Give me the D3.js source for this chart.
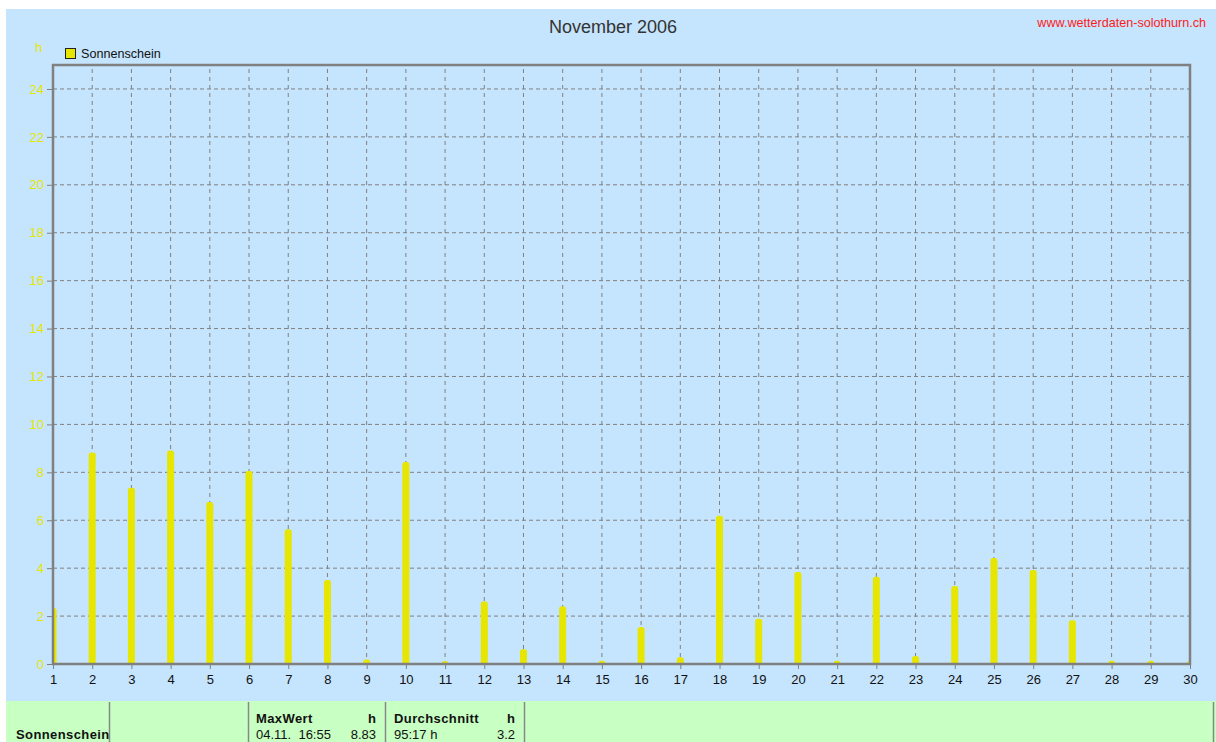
<!DOCTYPE html>
<html>
<head>
<meta charset="utf-8">
<script src="https://cdn.jsdelivr.net/npm/d3@7"></script>
<style>
  body { margin: 0; background: #fff; }
  svg text { font-family: "Liberation Sans", Arial, sans-serif; }
</style>
</head>
<body>
<div id="chart"></div>
<script>
// daily sunshine hours, November 2006
const days = d3.range(1, 31);
const sunshine = [2.25, 8.74, 7.27, 8.83, 6.68, 7.97, 5.54, 3.42, 0.1, 8.35,
                  0.03, 2.52, 0.53, 2.33, 0.05, 1.46, 0.2, 6.1, 1.8, 3.76,
                  0.05, 3.56, 0.25, 3.17, 4.34, 3.84, 1.74, 0.05, 0.05, 0.03];
const yTicks = [0, 2, 4, 6, 8, 10, 12, 14, 16, 18, 20, 22, 24];
const tableHeads = ["MaxWert", "Durchschnitt"];
const tableRows = [["04.11.  16:55", "8.83"], ["95:17 h", "3.2"]];

const ctx = {
    W: 1216,
    H: 742,
    left: 53, right: 1190, top: 65, bottom: 664,
    blue: "#C5E4FD",
    green: "#C8FFC2",
    yellow: "#E6E600",
    grid: "#808080",
};

const svg = d3.select("#chart").append("svg")
    .attr("width", ctx.W)
    .attr("height", ctx.H);

svg.append("rect").attr("x", 6).attr("y", 9).attr("width", ctx.W - 6).attr("height", 692)
    .style("fill", ctx.blue);

const x = d3.scaleLinear().domain([1, 30]).range([ctx.left, ctx.right]);
const y = d3.scaleLinear().domain([0, 25]).range([ctx.bottom, ctx.top]);

// grid
svg.append("g").selectAll("line")
    .data(yTicks.filter(d => d > 0))
    .enter().append("line")
    .attr("x1", ctx.left).attr("x2", ctx.right)
    .attr("y1", d => y(d)).attr("y2", d => y(d))
    .style("stroke", ctx.grid).style("stroke-dasharray", "4,3");

svg.append("g").selectAll("line")
    .data(days.slice(1, -1))
    .enter().append("line")
    .attr("x1", d => x(d)).attr("x2", d => x(d))
    .attr("y1", ctx.top + 4).attr("y2", ctx.bottom)
    .style("stroke", ctx.grid).style("stroke-dasharray", "4,4");

// bars
svg.append("clipPath").attr("id", "plotClip")
    .append("rect").attr("x", ctx.left).attr("y", ctx.top)
    .attr("width", ctx.right - ctx.left).attr("height", ctx.bottom - ctx.top);

svg.append("g").attr("clip-path", "url(#plotClip)")
    .selectAll("rect")
    .data(sunshine)
    .enter().append("rect")
    .attr("x", (d, i) => x(days[i]) - 3.5)
    .attr("width", 7)
    .attr("y", d => y(d) - 2)
    .attr("height", d => ctx.bottom - y(d) + 4)
    .attr("rx", 2.5)
    .style("fill", ctx.yellow);

// frame
svg.append("rect")
    .attr("x", ctx.left).attr("y", ctx.top)
    .attr("width", ctx.right - ctx.left).attr("height", ctx.bottom - ctx.top)
    .style("fill", "none").style("stroke", "#808080").style("stroke-width", 2.5);

// axes
const yAxis = d3.axisLeft(y).tickValues(yTicks).tickSize(6).tickPadding(3);
const gy = svg.append("g").attr("transform", `translate(${ctx.left},0)`).call(yAxis);
gy.select(".domain").remove();
gy.selectAll("line").style("stroke", "#808080");
gy.selectAll("text").style("fill", ctx.yellow).style("font-size", "13px");

const xAxis = d3.axisBottom(x).tickValues(days).tickFormat(d3.format("d")).tickSize(5).tickPadding(6);
const gx = svg.append("g").attr("transform", `translate(0,${ctx.bottom})`).call(xAxis);
gx.select(".domain").remove();
gx.selectAll("line").style("stroke", "#808080");
gx.selectAll("text").style("fill", "#111").style("font-size", "13px");

// titles
svg.append("text").attr("x", 613).attr("y", 33).attr("text-anchor", "middle")
    .style("font-size", "18px").style("fill", "#333").text("November 2006");

svg.append("text").attr("x", 1206).attr("y", 27).attr("text-anchor", "end")
    .style("font-size", "12.6px").style("fill", "#FF1A1A").text("www.wetterdaten-solothurn.ch");

svg.append("text").attr("x", 35).attr("y", 52)
    .style("font-size", "13px").style("fill", ctx.yellow).text("h");

// legend
svg.append("rect").attr("x", 65.5).attr("y", 48.5).attr("width", 10).attr("height", 10)
    .style("fill", ctx.yellow).style("stroke", "#222");
svg.append("text").attr("x", 81).attr("y", 58)
    .style("font-size", "12.6px").style("fill", "#111").text("Sonnenschein");

// summary table
svg.append("rect").attr("x", 6).attr("y", 701).attr("width", ctx.W - 6).attr("height", 41)
    .style("fill", ctx.green);

svg.append("g").selectAll("line")
    .data([109.5, 248.5, 385.5, 524.5, 1213.5])
    .enter().append("line")
    .attr("x1", d => d).attr("x2", d => d)
    .attr("y1", 702).attr("y2", ctx.H)
    .style("stroke", "#888").style("stroke-width", 1.5);

svg.append("text").attr("x", 16).attr("y", 739)
    .style("font-size", "13px").style("font-weight", "bold").style("letter-spacing", "0.4px")
    .style("fill", "#111").text("Sonnenschein");

const colX = [[256, 376], [394, 515]];
tableHeads.forEach((h, i) => {
    svg.append("text").attr("x", colX[i][0]).attr("y", 723)
        .style("font-size", "13px").style("font-weight", "bold").style("letter-spacing", "0.4px")
        .style("fill", "#111").text(h);
    svg.append("text").attr("x", colX[i][1]).attr("y", 723).attr("text-anchor", "end")
        .style("font-size", "13px").style("font-weight", "bold").style("fill", "#111").text("h");
    svg.append("text").attr("x", colX[i][0]).attr("y", 739).attr("xml:space", "preserve")
        .style("font-size", "13px").style("fill", "#111").text(tableRows[i][0]);
    svg.append("text").attr("x", colX[i][1]).attr("y", 739).attr("text-anchor", "end")
        .style("font-size", "13px").style("fill", "#111").text(tableRows[i][1]);
});
</script>
</body>
</html>
